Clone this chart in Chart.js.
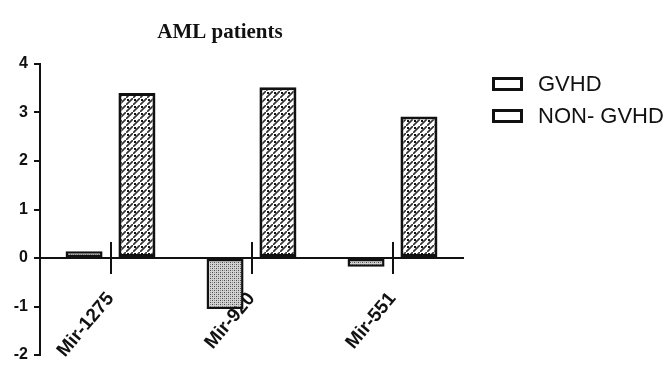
<!DOCTYPE html>
<html>
<head>
<meta charset="utf-8">
<script src="https://cdn.jsdelivr.net/npm/chart.js@4"></script>
<style>
  html, body { margin: 0; padding: 0; background: #fff; }
  #wrap { position: relative; width: 667px; height: 365px; }
  canvas { position: absolute; left: 0; top: 0; }
  .lg { position: absolute; left: 492px; font: 22px "Liberation Sans", Arial, sans-serif; color: #111; display: flex; align-items: center; white-space: nowrap; }
  .lg span.box { display: inline-block; width: 25px; height: 8px; border: 3px solid #111; background: #fff; margin-right: 15px; }
</style>
</head>
<body>
<div id="wrap">
  <canvas id="c" width="667" height="365"></canvas>
  <div class="lg" style="top:71px"><span class="box"></span>GVHD</div>
  <div class="lg" style="top:103px"><span class="box"></span>NON- GVHD</div>
</div>
<script>
const categories = ["Mir-1275", "Mir-920", "Mir-551"];
const seriesNames = ["GVHD", "NON- GVHD"];
const gvhdValues = [0.14, -1.05, -0.18];
const nonGvhdValues = [3.4, 3.52, 2.92];
const yTicks = [4, 3, 2, 1, 0, -1, -2];
const titleText = "AML patients";

function dotPattern() {
  const c = document.createElement('canvas');
  c.width = 4; c.height = 4;
  const x = c.getContext('2d');
  x.fillStyle = '#d2d2d2'; x.fillRect(0, 0, 4, 4);
  x.fillStyle = '#4a4a4a';
  x.fillRect(0, 0, 1, 1); x.fillRect(2, 2, 1, 1);
  x.fillStyle = '#888';
  x.fillRect(2, 0, 1, 1); x.fillRect(0, 2, 1, 1);
  return x.createPattern(c, 'repeat');
}
function hatchPattern() {
  const c = document.createElement('canvas');
  c.width = 7; c.height = 7;
  const x = c.getContext('2d');
  x.fillStyle = '#ffffff'; x.fillRect(0, 0, 7, 7);
  x.strokeStyle = '#333'; x.lineWidth = 1.7;
  x.beginPath(); x.moveTo(-1, 8); x.lineTo(8, -1); x.stroke();
  x.fillStyle = '#111';
  x.fillRect(1, 1, 2, 2);
  return x.createPattern(c, 'repeat');
}

const titlePlugin = {
  id: 'titleText',
  afterDraw(chart) {
    const ctx = chart.ctx;
    ctx.save();
    ctx.font = 'bold 21px "Liberation Serif", "Times New Roman", serif';
    ctx.fillStyle = '#111';
    ctx.textAlign = 'center';
    ctx.textBaseline = 'alphabetic';
    ctx.fillText(titleText, 220, 38);
    ctx.restore();
  }
};
const upTicks = {
  id: 'upTicks',
  afterDatasetsDraw(chart) {
    const xs = chart.scales.x, ys = chart.scales.y;
    const y0 = ys.getPixelForValue(0);
    const ctx = chart.ctx;
    ctx.save();
    ctx.strokeStyle = '#111'; ctx.lineWidth = 2;
    categories.forEach((c, i) => {
      const px = Math.round(xs.getPixelForValue(i));
      ctx.beginPath(); ctx.moveTo(px, y0 - 16); ctx.lineTo(px, y0); ctx.stroke();
    });
    ctx.restore();
  }
};

new Chart(document.getElementById('c'), {
  type: 'bar',
  data: {
    labels: categories,
    datasets: [
      { label: seriesNames[0], data: gvhdValues, backgroundColor: dotPattern(), borderColor: '#111', borderWidth: 2.5, borderSkipped: false },
      { label: seriesNames[1], data: nonGvhdValues, backgroundColor: hatchPattern(), borderColor: '#111', borderWidth: 3, borderSkipped: false }
    ]
  },
  options: {
    responsive: false,
    animation: false,
    devicePixelRatio: 1,
    datasets: { bar: { barPercentage: 0.7, categoryPercentage: 0.75 } },
    layout: { padding: { top: 64, right: 204, bottom: 10, left: 0 } },
    plugins: { legend: { display: false }, tooltip: { enabled: false }, title: { display: false } },
    scales: {
      x: {
        position: { y: 0 },
        offset: true,
        afterFit(s) { s.height = 0; s.paddingLeft = 0; s.paddingRight = 0; },
        border: { display: true, color: '#111', width: 2 },
        grid: { display: true, offset: false, drawOnChartArea: false, drawTicks: true, tickLength: 15, color: '#111', lineWidth: 2 },
        ticks: { minRotation: 50, maxRotation: 50, padding: 15, color: '#111', font: { family: '"Liberation Sans", Arial, sans-serif', size: 19, weight: 'bold' } }
      },
      y: {
        min: -2, max: 4,
        afterFit(s) { s.width = 40; s.paddingTop = 0; s.paddingBottom = 0; },
        afterBuildTicks(s) { s.ticks = yTicks.map(v => ({ value: v })); },
        border: { display: true, color: '#111', width: 2 },
        grid: { display: true, drawOnChartArea: false, drawTicks: true, tickLength: 6, color: '#111', lineWidth: 2 },
        ticks: { stepSize: 1, padding: 6, color: '#111', font: { family: '"Liberation Sans", Arial, sans-serif', size: 16, weight: 'bold' } }
      }
    }
  },
  plugins: [titlePlugin, upTicks]
});
</script>
</body>
</html>
